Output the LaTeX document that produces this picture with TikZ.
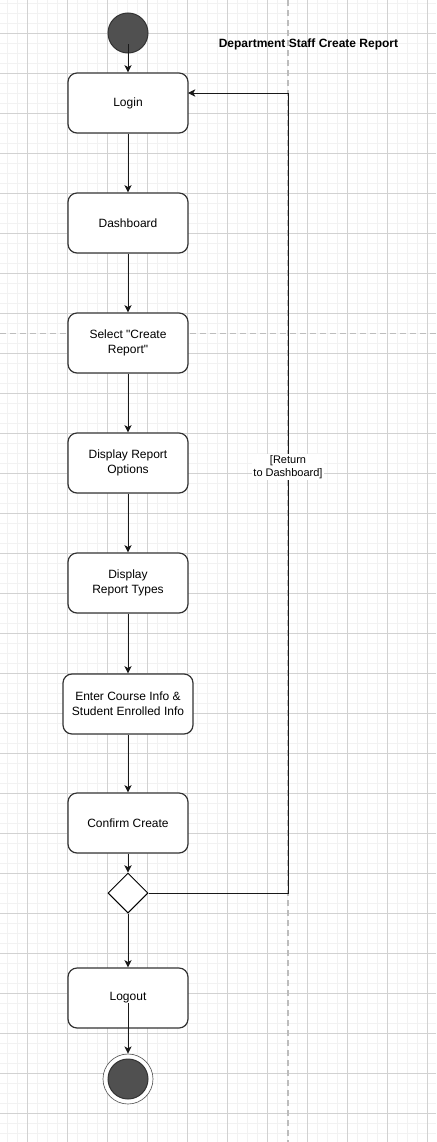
\documentclass[tikz,border=0pt]{standalone}
\usepackage{fontspec}
\setmainfont{Liberation Sans}
\usetikzlibrary{arrows.meta,shapes.geometric}
\definecolor{gmin}{HTML}{F2F2F2}
\definecolor{gmaj}{HTML}{D2D2D2}
\definecolor{swl}{HTML}{BDBDBD}
\definecolor{fillc}{HTML}{505050}
\definecolor{edgec}{HTML}{333333}
\begin{document}
\begin{tikzpicture}[x=0.75pt,y=-0.75pt,
  actbox/.style={draw=edgec, line width=0.9pt, fill=white, rounded corners=6.75pt,
    minimum width=90pt, minimum height=45pt, inner sep=0pt, align=center,
    font=\fontsize{9}{11}\selectfont},
  startnode/.style={circle, draw=edgec, line width=0.75pt, fill=fillc, minimum size=30pt, inner sep=0pt},
  decnode/.style={diamond, aspect=1, draw=black, line width=0.75pt, fill=white, minimum size=30pt, inner sep=0pt},
  endouter/.style={circle, draw=edgec!80, line width=0.5pt, fill=white, minimum size=37.5pt, inner sep=0pt},
  arr/.style={draw=black!90, line width=0.75pt, -{Stealth[length=5.5pt,width=5.5pt,inset=1.5pt]}},
  lbl/.style={fill=white, inner sep=1pt, align=center, font=\fontsize{8.25}{9.75}\selectfont},
  swimline/.style={draw=swl, line width=1.1pt, dash pattern=on 4.5pt off 3pt},
  ttl/.style={font=\fontsize{9}{11}\selectfont\bfseries}
]
\useasboundingbox (0,0) rectangle (436,1142);
\clip (0,0) rectangle (436,1142);
\fill[white] (0,0) rectangle (436,1142);
% grid
\foreach \i in {0,...,43} \draw[gmin, line width=1.2pt] (7.3+10*\i,0) -- ++(0,1142);
\foreach \i in {0,...,114} \draw[gmin, line width=1.2pt] (0,3.3+10*\i) -- ++(436,0);
\foreach \i in {0,...,10} \draw[gmaj, line width=0.75pt] (27.3+40*\i,0) -- ++(0,1142);
\foreach \i in {0,...,27} \draw[gmaj, line width=0.75pt] (0,33.3+40*\i) -- ++(436,0);
% swimlane dividers
\draw[swimline] (288,0) -- (288,1142);
\draw[swimline] (0,333.5) -- (436,333.5);
% title
\node[ttl] (title) at (308.5,44) {Department Staff Create Report};
% nodes
\node[startnode] (start) at (128,33) {};
\node[actbox] (login) at (128,103) {Login};
\node[actbox] (dash) at (128,223) {Dashboard};
\node[actbox] (sel) at (128,343) {Select \textquotedbl Create\\Report\textquotedbl};
\node[actbox] (opts) at (128,463) {Display Report\\Options};
\node[actbox] (types) at (128,583) {Display\\Report Types};
\node[actbox, minimum width=97.5pt] (enter) at (128,704) {Enter Course Info \&\\Student Enrolled Info};
\node[actbox] (conf) at (128,823) {Confirm Create};
\node[decnode] (dec) at (128,893) {};
\node[actbox] (logout) at (128,998) {Logout};
\node[endouter] (end) at (128,1079) {};
\node[startnode] (endin) at (end.center) {};
\coordinate (lin) at (188,93);
\coordinate (rx) at (288,893);
% connectors
\draw[arr] ([yshift=-8.25pt]start.center) -- (login);
\draw[arr] (login) -- (dash);
\draw[arr] (dash) -- (sel);
\draw[arr] (sel) -- (opts);
\draw[arr] (opts) -- (types);
\draw[arr] (types) -- (enter);
\draw[arr] (enter) -- (conf);
\draw[arr] (conf) -- (dec);
\draw[arr] (dec) -- (logout);
\draw[arr] ([yshift=-3.75pt]logout.center) -- (end);
\draw[arr] (dec.east) -- (rx) -- node[lbl, pos=0.5325] (retlbl) {[Return\\to Dashboard]} (rx |- lin) -- (lin);
\end{tikzpicture}
\end{document}
